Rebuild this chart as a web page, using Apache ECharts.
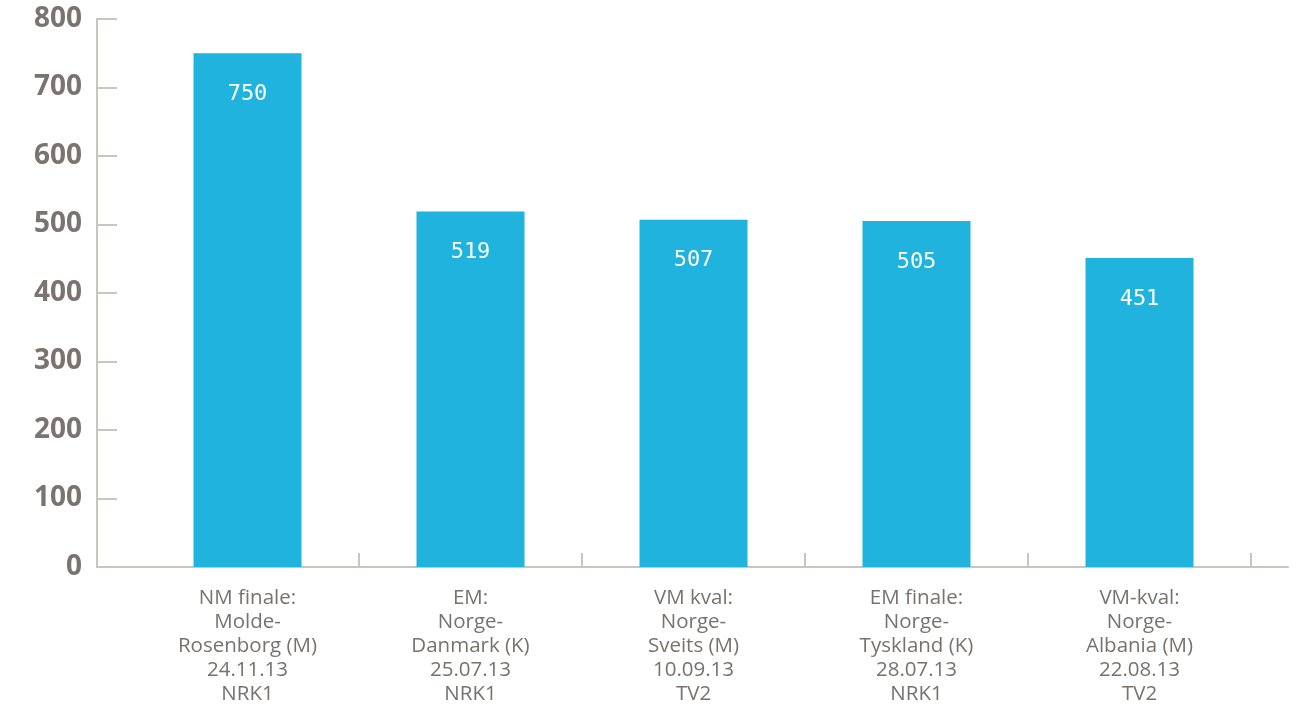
<!DOCTYPE html>
<html><head><meta charset="utf-8">
<script src="https://cdn.jsdelivr.net/npm/echarts@6/dist/echarts.min.js"></script>
<style>html,body{margin:0;padding:0;background:#fff}#c{width:1299px;height:710px}</style>
</head><body><div id="c"></div>
<script>
const categories = [
  "NM finale:\nMolde-\nRosenborg (M)\n24.11.13\nNRK1",
  "EM:\nNorge-\nDanmark (K)\n25.07.13\nNRK1",
  "VM kval:\nNorge-\nSveits (M)\n10.09.13\nTV2",
  "EM finale:\nNorge-\nTyskland (K)\n28.07.13\nNRK1",
  "VM-kval:\nNorge-\nAlbania (M)\n22.08.13\nTV2"
];
const values = [750, 519, 507, 505, 451];
const yMin = 0, yMax = 800, yStep = 100;

const axisColor = '#c9c5bf';
const chart = echarts.init(document.getElementById('c'));
chart.setOption({
  animation: false,
  grid: [
    {left: 97, right: 11, top: 19, bottom: 143},
    {left: 136, right: 48, top: 19, bottom: 143}
  ],
  xAxis: [
    {gridIndex: 0, type: 'value', min: 0, max: 1, axisLine: {show: true, onZero: false, lineStyle: {color: axisColor, width: 2}},
     axisTick: {show: false}, axisLabel: {show: false}, splitLine: {show: false}},
    {gridIndex: 1, type: 'category', data: categories,
     axisLine: {show: false},
     axisTick: {show: true, inside: true, length: 14, interval: (i) => i !== 0, lineStyle: {color: axisColor, width: 2}},
     axisLabel: {margin: 19, color: '#78726e', fontFamily: 'Open Sans', fontSize: 20.5, lineHeight: 24, interval: 0}}
  ],
  yAxis: [
    {gridIndex: 0, type: 'value', min: yMin, max: yMax, interval: yStep,
     axisLine: {show: true, lineStyle: {color: axisColor, width: 2}},
     axisTick: {show: true, inside: true, length: 20, lineStyle: {color: axisColor, width: 2}},
     splitLine: {show: false},
     axisLabel: {margin: 15, color: '#7a736f', fontFamily: 'Open Sans', fontWeight: 'bold', fontSize: 28}},
    {gridIndex: 1, type: 'value', min: yMin, max: yMax, interval: yStep, show: false}
  ],
  series: [{
    type: 'bar', xAxisIndex: 1, yAxisIndex: 1, data: values, barWidth: 108,
    itemStyle: {color: '#1fb3de'},
    label: {show: true, position: 'insideTop', distance: 30, color: '#fff', fontFamily: 'DejaVu Sans Mono', fontSize: 22}
  }]
});
</script></body></html>
